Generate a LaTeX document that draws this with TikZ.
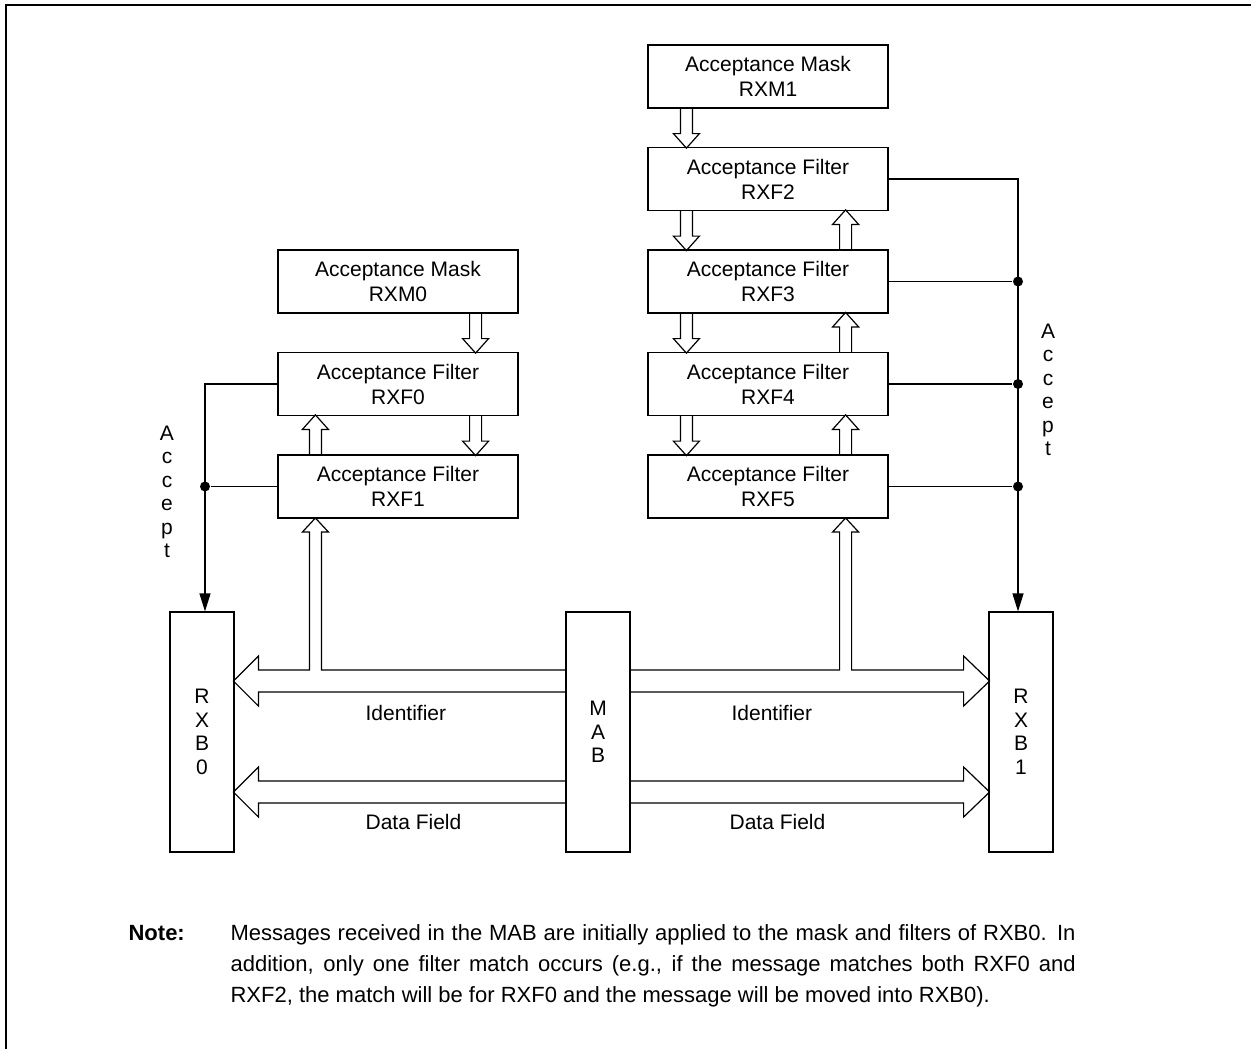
\documentclass[tikz,border=0pt]{standalone}
\usepackage{fontspec}
\setmainfont{Liberation Sans}
\usetikzlibrary{arrows.meta,positioning}
\tikzset{font=\fontsize{10.5}{12.5}\selectfont}
\tikzset{every picture/.style={line width=0.6pt}}
\tikzstyle{filt}=[draw,rectangle,minimum width=120pt,minimum height=31.5pt,align=center,inner sep=0pt]
\tikzstyle{buf}=[draw,rectangle,minimum width=32pt,minimum height=120pt,align=center,inner sep=0pt,font=\fontsize{10.5}{11.75}\selectfont]
\tikzstyle{vlbl}=[align=center,inner sep=0pt,font=\fontsize{10.5}{11.75}\selectfont]
\tikzstyle{buslbl}=[anchor=base west,inner sep=0pt]
\tikzstyle{jdot}=[circle,fill=black,inner sep=0pt,minimum size=5pt]
\tikzstyle{acc}=[-{Triangle[length=9pt,width=5.5pt]}]
\tikzstyle{hol}=[line join=miter]
\tikzstyle{notefont}=[font=\fontsize{11}{15.5}\selectfont]

\begin{document}
\begin{tikzpicture}[x=0.5pt,y=-0.5pt]
\useasboundingbox (0,0) rectangle (1251,1049);
\draw[line width=0.8pt] (6,1049) -- (6,5) -- (1251,5);

% left group
\node[filt] (RXM0) at (398,281.5) {Acceptance Mask\\RXM0};
\node[filt] (RXF0) at (398,384) {Acceptance Filter\\RXF0};
\node[filt] (RXF1) at (398,486.5) {Acceptance Filter\\RXF1};

% right group
\node[filt] (RXM1) at (768,76.5) {Acceptance Mask\\RXM1};
\node[filt] (RXF2) at (768,179) {Acceptance Filter\\RXF2};
\node[filt] (RXF3) at (768,281.5) {Acceptance Filter\\RXF3};
\node[filt] (RXF4) at (768,384) {Acceptance Filter\\RXF4};
\node[filt] (RXF5) at (768,486.5) {Acceptance Filter\\RXF5};

% buffers
\node[buf] (RXB0) at (202,732) {R\\X\\B\\0};
\node[buf] (MAB) at (598,732) {M\\A\\B};
\node[buf] (RXB1) at (1021,732) {R\\X\\B\\1};

% hollow arrows between the boxes
\foreach \a in {RXM0,RXF0}
  \draw[hol] ([xshift=-24.5pt]\a.south east) -- ++(0,25) -- ++(-7,0) -- ++(13,14.5) -- ++(13,-14.5) -- ++(-7,0) -- ++(0,-25);
\draw[hol] ([xshift=16pt]RXF1.north west) -- ++(0,-25) -- ++(-7,0) -- ++(13,-14.5) -- ++(13,14.5) -- ++(-7,0) -- ++(0,25);
\foreach \a in {RXM1,RXF2,RXF3,RXF4}
  \draw[hol] ([xshift=16.5pt]\a.south west) -- ++(0,25) -- ++(-7,0) -- ++(13,14.5) -- ++(13,-14.5) -- ++(-7,0) -- ++(0,-25);
\foreach \b in {RXF3,RXF4,RXF5}
  \draw[hol] ([xshift=-24.5pt]\b.north east) -- ++(0,-25) -- ++(-7,0) -- ++(13,-14.5) -- ++(13,14.5) -- ++(-7,0) -- ++(0,25);

% identifier and data buses
\draw[hol] ([yshift=31pt]MAB.west) -- ++(-244,0) -- ++(0,-138) -- ++(7,0) -- ++(-13,-14) -- ++(-13,14) -- ++(7,0) -- ++(0,138)
  -- ++(-51,0) -- ++(0,-14) -- ++(-25,25) -- ++(25,25) -- ++(0,-14) -- ++(307,0);
\draw[hol] ([yshift=31pt]MAB.east) -- ++(209,0) -- ++(0,-138) -- ++(-7,0) -- ++(13,-14) -- ++(13,14) -- ++(-7,0) -- ++(0,138)
  -- ++(112,0) -- ++(0,-14) -- ++(26,25) -- ++(-26,25) -- ++(0,-14) -- ++(-333,0);
\draw[hol] ([yshift=-24.5pt]MAB.west) -- ++(-307,0) -- ++(0,-14) -- ++(-25,25) -- ++(25,25) -- ++(0,-14) -- ++(307,0);
\draw[hol] ([yshift=-24.5pt]MAB.east) -- ++(333,0) -- ++(0,-14) -- ++(26,25) -- ++(-26,25) -- ++(0,-14) -- ++(-333,0);

\node[buslbl] (id0) at (365,720) {Identifier};
\node[buslbl] (id1) at (731,720) {Identifier};
\node[buslbl] (df0) at (365,829) {Data Field};
\node[buslbl] (df1) at (729,829) {Data Field};

% accept lines
\coordinate (in0) at ([xshift=1.5pt]RXB0.north);
\coordinate (in1) at ([xshift=-1.5pt]RXB1.north);
\draw[acc] (RXF0.west) -| (in0);
\node[jdot] (jRXF1) at (in0 |- RXF1.west) {};
\draw (jRXF1) -- (RXF1.west);
\draw[acc] (RXF2.east) -| (in1);
\foreach \f in {RXF3,RXF4,RXF5} {
  \node[jdot] (j\f) at (in1 |- \f.east) {};
  \draw (j\f) -- (\f.east);
}
\node[vlbl] (acc0) at (167,492) {A\\c\\c\\e\\p\\t};
\node[vlbl] (acc1) at (1048,390) {A\\c\\c\\e\\p\\t};

% note
\node[notefont,font=\fontsize{11}{15.5}\bfseries,anchor=base west,inner sep=0pt] (notelbl) at (128,940) {Note:};
\node[notefont,anchor=base west,inner sep=0pt,text width=422.5pt,align=justify] (notetxt) at (230,940)
  {Messages received in the MAB are initially applied to the mask and filters of RXB0. In\linebreak
   addition, only one filter match occurs (e.g., if the message matches both RXF0 and\linebreak
   RXF2, the match will be for RXF0 and the message will be moved into RXB0).};
\end{tikzpicture}
\end{document}
